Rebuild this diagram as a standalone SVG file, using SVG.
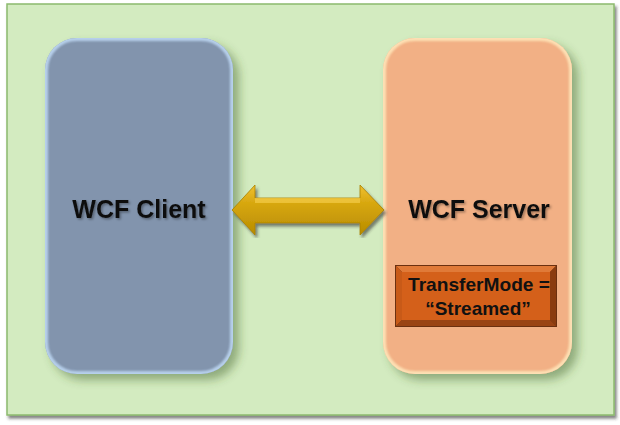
<svg xmlns="http://www.w3.org/2000/svg" width="620" height="425" viewBox="0 0 620 425">
<defs>
<style>
.lbl{font-family:"Liberation Sans",Arial,sans-serif;font-weight:bold;fill:#111;text-anchor:middle}
</style>
<filter id="sh" x="-20%" y="-20%" width="150%" height="150%">
<feDropShadow dx="6" dy="6" stdDeviation="5" flood-color="#3a5a20" flood-opacity="0.45"/>
</filter>
<filter id="fsh" x="-5%" y="-5%" width="110%" height="110%">
<feDropShadow dx="2" dy="3" stdDeviation="1.5" flood-color="#333" flood-opacity="0.6"/>
</filter>
<filter id="tsh" x="-10%" y="-20%" width="120%" height="150%">
<feDropShadow dx="1.5" dy="1.5" stdDeviation="1" flood-color="#000" flood-opacity="0.35"/>
</filter>
<filter id="bl" x="-5%" y="-5%" width="110%" height="110%">
<feGaussianBlur stdDeviation="1.3"/>
</filter>
<clipPath id="cc"><rect x="45" y="38" width="188" height="336" rx="32"/></clipPath>
<clipPath id="sc"><rect x="383" y="38" width="189" height="336" rx="32"/></clipPath>
<linearGradient id="shaft" x1="0" y1="0" x2="0" y2="1">
<stop offset="0" stop-color="#f0c030"/>
<stop offset="0.35" stop-color="#d8a810"/>
<stop offset="1" stop-color="#b88c00"/>
</linearGradient>
</defs>
<rect x="7" y="4" width="607" height="411" fill="#d3ebc0" stroke="#8cba6e" stroke-width="1.5" filter="url(#fsh)"/>
<g id="client">
<rect x="45" y="38" width="188" height="336" rx="32" fill="#8294ad" filter="url(#sh)"/>
<g clip-path="url(#cc)">
<rect x="45" y="38" width="188" height="336" rx="32" fill="none" stroke="#c0daf6" stroke-width="6" opacity="0.85" filter="url(#bl)"/>
</g>
<text class="lbl" x="139" y="218" font-size="25" filter="url(#tsh)">WCF Client</text>
</g>
<g id="server">
<rect x="383" y="38" width="189" height="336" rx="32" fill="#f2b085" filter="url(#sh)"/>
<g clip-path="url(#sc)">
<rect x="383" y="38" width="189" height="336" rx="32" fill="none" stroke="#ffe8bc" stroke-width="6" opacity="0.85" filter="url(#bl)"/>
</g>
<text class="lbl" x="479" y="218" font-size="25" filter="url(#tsh)">WCF Server</text>
</g>
<g id="transfermode">
<rect x="395" y="265" width="162" height="62" fill="#6b3010"/>
<polygon points="396,266 556,266 550,272 402,272" fill="#e07a38"/>
<polygon points="396,266 402,272 402,320 396,326" fill="#c85a18"/>
<polygon points="556,266 556,326 550,320 550,272" fill="#8a3c10"/>
<polygon points="396,326 556,326 550,320 402,320" fill="#9a4414"/>
<rect x="402" y="272" width="148" height="48" fill="#d4601a"/>
<text class="lbl" x="479" y="291" font-size="19" textLength="142" lengthAdjust="spacingAndGlyphs">TransferMode =</text>
<text class="lbl" x="478" y="315" font-size="19">“Streamed”</text>
</g>
<g id="connectors">
<polygon points="232,210 255,185 255,198 360,198 360,185 384,210 360,235 360,223 255,223 255,235" fill="url(#shaft)" stroke="#a88000" stroke-width="0.8" filter="url(#fsh)"/>
<polygon points="255,198 360,198 360,203 255,203" fill="#f4cc48" opacity="0.7"/>
</g>
</svg>
